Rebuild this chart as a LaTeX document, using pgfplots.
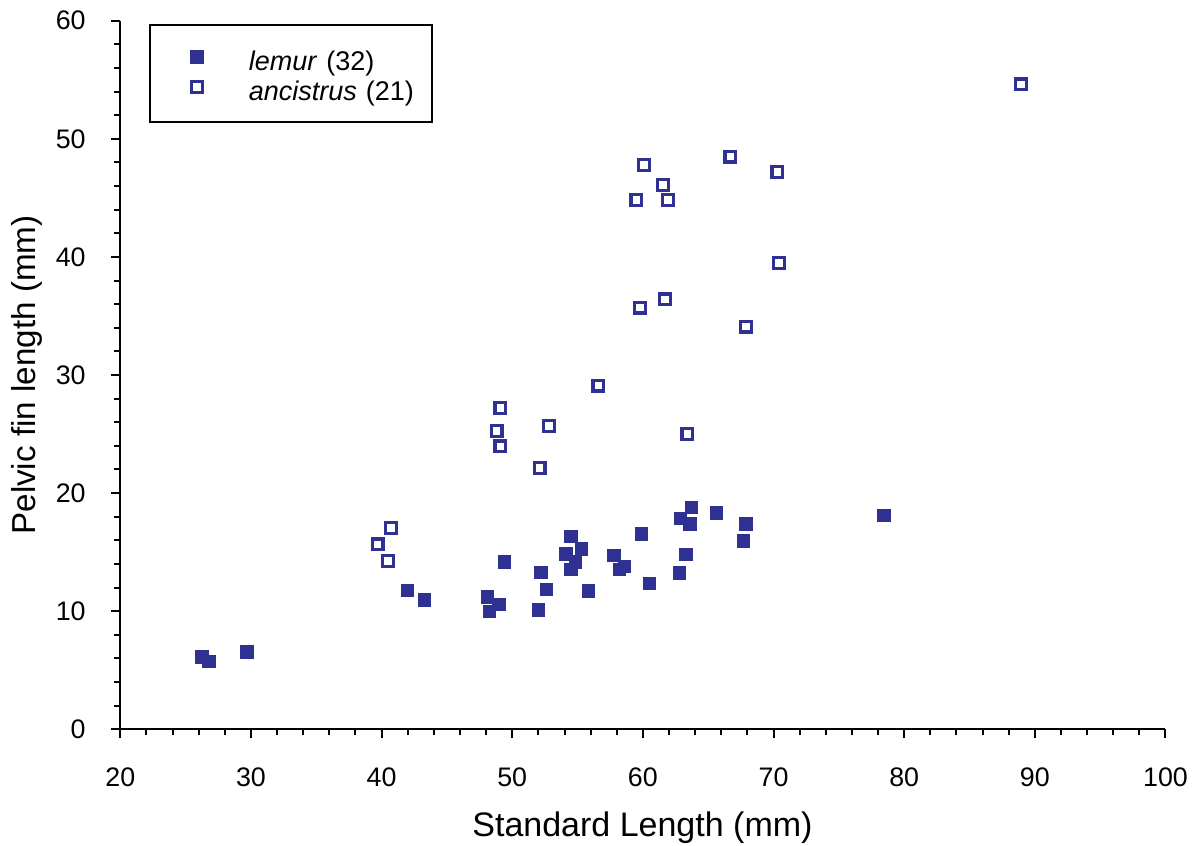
\documentclass[border=0pt]{standalone}
\usepackage{fontspec}
\setmainfont{Liberation Sans}
\usepackage{pgfplots}
\pgfplotsset{compat=1.18}
\definecolor{pblue}{RGB}{46,49,146}
\pgfplotstableread{
x y
26.25 6.12
26.8 5.75
29.7 6.55
42.0 11.75
43.3 10.95
48.1 11.2
48.25 10.0
49.0 10.55
49.4 14.15
52.0 10.1
52.2 13.3
52.6 11.85
54.1 14.85
54.5 16.35
54.5 13.55
54.85 14.15
55.3 15.25
55.85 11.7
57.8 14.7
58.2 13.55
58.6 13.8
59.9 16.55
60.5 12.35
62.8 13.25
62.9 17.85
63.3 14.8
63.6 17.4
63.7 18.8
65.65 18.3
67.7 15.95
67.9 17.4
78.45 18.1
}\lemur
\pgfplotstableread{
x y
60.1 47.8
66.7 48.5
70.3 47.2
61.55 46.1
59.5 44.8
61.9 44.8
70.4 39.5
61.7 36.4
59.8 35.7
67.9 34.1
56.6 29.1
49.1 27.2
52.8 25.7
48.8 25.25
49.1 23.95
63.4 25.0
52.1 22.1
88.95 54.6
39.7 15.65
40.7 17.05
40.5 14.25
}\ancistrus
\begin{document}
\begin{tikzpicture}
\begin{axis}[
  at={(0,0)}, anchor=south west,
  width=522.6bp, height=354.3bp, scale only axis,
  xmin=20, xmax=100, ymin=0, ymax=60,
  xtick={20,30,...,100}, ytick={0,10,...,60},
  minor x tick num=4, minor y tick num=4,
  axis lines*=left,
  axis line style={line width=1bp, black, -},
  tick align=outside,
  major tick length=4.5bp, minor tick length=3bp,
  every tick/.style={line width=1bp, black},
  clip=false,
  /pgf/number format/assume math mode=true,
  tick label style={font=\fontsize{13.4bp}{16bp}\selectfont, inner sep=0pt},
  xticklabel style={anchor=base, yshift=-24bp},
  yticklabel style={anchor=east, xshift=-12.65bp},
  xlabel={Standard Length (mm)},
  ylabel={Pelvic fin length (mm)},
  xlabel style={at={(axis description cs:0.4996,-0.1516)}, anchor=base, inner sep=0pt, font=\fontsize{17bp}{20bp}\selectfont},
  ylabel style={at={(axis description cs:-0.0816,0.5)}, anchor=base, inner sep=0pt, rotate=0, font=\fontsize{16.6bp}{20bp}\selectfont},
  legend image code/.code={\draw[#1] plot coordinates {(0bp,0.8bp)}; \path (-22.9bp,0bp) (3.4bp,0bp);},
  legend cell align=left,
  legend style={
    at={(axis description cs:0.02775,0.9949)}, anchor=north west,
    draw=black, line width=1bp, fill=white,
    inner xsep=0pt, inner ysep=10.6bp,
    row sep=3.1bp,
    /tikz/every odd column/.append style={column sep=22.0bp},
    nodes={inner sep=0pt, text height=11.9bp, text depth=0pt, text width=91.5bp, align=left,
      font=\fontsize{13.5bp}{16bp}\selectfont},
  },
]
\addplot[only marks, mark=square*, mark size=3.1bp, mark options={line width=0.5bp, draw=pblue, fill=pblue}] table[x=x,y=y] {\lemur};
\addlegendentry{\textit{lemur} (32)}
\addplot[only marks, mark=square, mark size=2.7bp, mark options={line width=1.6bp, draw=pblue, fill=white}] table[x=x,y=y] {\ancistrus};
\addlegendentry{\textit{ancistrus} (21)}
\end{axis}
\path[use as bounding box] (-60.15bp,-58.35bp) rectangle (536.35bp,364.65bp);
\end{tikzpicture}
\end{document}
